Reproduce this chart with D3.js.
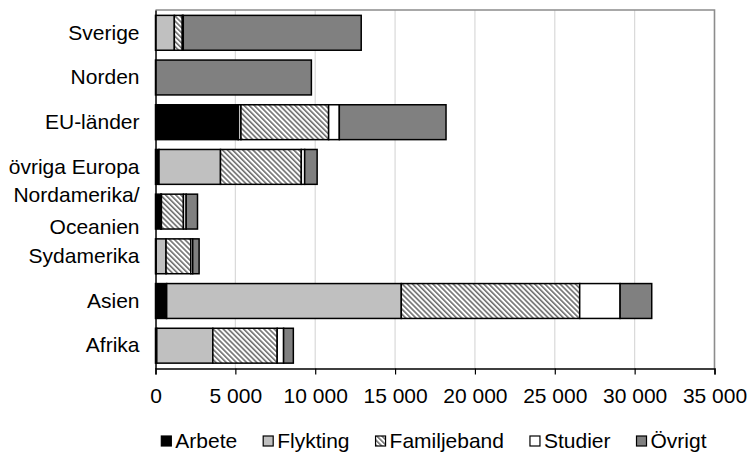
<!DOCTYPE html>
<html>
<head>
<meta charset="utf-8">
<script src="https://cdn.jsdelivr.net/npm/d3@7"></script>
<style>
    body { margin: 0; background: #fff; }
    svg text { font-family: "Liberation Sans", Arial, sans-serif; font-size: 21px; fill: #000; }
</style>
</head>
<body>
<div id="chart"></div>
<script>
// Regions of origin, top to bottom
var regions = ["Sverige", "Norden", "EU-länder", "övriga Europa", "Nordamerika/\nOceanien", "Sydamerika", "Asien", "Afrika"];

// Reasons for residence (stack order, left to right)
var reasons = ["Arbete", "Flykting", "Familjeband", "Studier", "Övrigt"];

// Values per region
var arbete      = [0,    0,    5180, 220,  330,  40,   700,   80];
var flykting    = [1180, 0,    170,  3850, 40,   620,  14690, 3510];
var familjeband = [500,  0,    5490, 5060, 1380, 1550, 11170, 4030];
var studier     = [60,   0,    670,  210,  170,  120,  2530,  400];
var ovrigt      = [11140, 9760, 6680, 780,  710,  400,  1980,  610];

var xTicks = [0, 5000, 10000, 15000, 20000, 25000, 30000, 35000];

/**
 * Build the stacked horizontal bar chart
 */
function buildChart() {
    var width = 750, height = 454;
    var plot = {left: 155.5, right: 714.5, top: 10, bottom: 368.5};

    var svg = d3.select("#chart")
        .append("svg")
        .attr("width", width)
        .attr("height", height);

    // Hatch pattern for Familjeband
    var defs = svg.append("defs");
    var hatch = defs.append("pattern")
        .attr("id", "hatch")
        .attr("patternUnits", "userSpaceOnUse")
        .attr("width", 3.6)
        .attr("height", 10)
        .attr("patternTransform", "rotate(-45)");
    hatch.append("rect").attr("width", 3.6).attr("height", 10).attr("fill", "#fff");
    hatch.append("rect").attr("width", 1.6).attr("height", 10).attr("fill", "#6e6e6e");

    var fills = {
        "Arbete": "#000000",
        "Flykting": "#c0c0c0",
        "Familjeband": "url(#hatch)",
        "Studier": "#ffffff",
        "Övrigt": "#808080"
    };

    // Put the series into rows for d3.stack
    var series = [arbete, flykting, familjeband, studier, ovrigt];
    var rows = regions.map(function(r, i) {
        var row = {region: r};
        reasons.forEach(function(k, j) { row[k] = series[j][i]; });
        return row;
    });
    var stacked = d3.stack().keys(reasons)(rows);

    var x = d3.scaleLinear()
        .domain([0, 35000])
        .range([plot.left, plot.right]);

    var y = d3.scaleBand()
        .domain(regions)
        .range([plot.top, plot.bottom])
        .paddingInner(0.22)
        .paddingOuter(0.12);

    // Gridlines
    svg.append("g")
        .selectAll("line")
        .data(xTicks.slice(1, -1))
        .enter()
        .append("line")
            .attr("x1", function(d) { return x(d); })
            .attr("x2", function(d) { return x(d); })
            .attr("y1", plot.top)
            .attr("y2", plot.bottom)
            .attr("stroke", "#d9d9d9")
            .attr("stroke-width", 1.2);

    // Plot border (top and right)
    svg.append("path")
        .attr("d", "M" + plot.left + "," + plot.top + "H" + plot.right + "V" + plot.bottom)
        .attr("fill", "none")
        .attr("stroke", "#8c8c8c")
        .attr("stroke-width", 1.6);

    // Bars
    svg.append("g")
        .selectAll("g")
        .data(stacked)
        .enter()
        .append("g")
            .attr("fill", function(d) { return fills[d.key]; })
        .selectAll("rect")
        .data(function(d) { return d; })
        .enter()
        .filter(function(d) { return d[1] > d[0]; })
        .append("rect")
            .attr("x", function(d) { return x(d[0]); })
            .attr("width", function(d) { return x(d[1]) - x(d[0]); })
            .attr("y", function(d) { return y(d.data.region); })
            .attr("height", y.bandwidth())
            .attr("stroke", "#000")
            .attr("stroke-width", 1.5);

    // X axis with space as thousands separator
    var fmt = d3.formatLocale({decimal: ",", thousands: " ", grouping: [3], currency: ["", " kr"]}).format(",d");
    var xAxis = svg.append("g")
        .attr("transform", "translate(0," + plot.bottom + ")")
        .call(d3.axisBottom(x).tickValues(xTicks).tickFormat(fmt).tickSize(6).tickPadding(14).tickSizeOuter(6));
    xAxis.select(".domain").attr("stroke", "#000").attr("stroke-width", 1.5);
    xAxis.selectAll(".tick line").attr("stroke", "#000").attr("stroke-width", 1.2);
    xAxis.selectAll("text").attr("font-size", null).attr("font-family", null);

    // Y axis: labels only plus a vertical line
    var yAxis = svg.append("g")
        .attr("transform", "translate(" + plot.left + ",0)")
        .call(d3.axisLeft(y).tickSize(0).tickPadding(16));
    yAxis.select(".domain").attr("stroke", "#000").attr("stroke-width", 1.5);
    yAxis.selectAll("text").attr("font-size", null).attr("font-family", null);

    // Split the two-line label into tspans
    yAxis.selectAll(".tick text").each(function(d) {
        var parts = d.split("\n");
        if (parts.length < 2) return;
        var t = d3.select(this).text("").attr("dy", null);
        parts.forEach(function(p, i) {
            t.append("tspan")
                .attr("x", -16)
                .attr("dy", i == 0 ? "-0.45em" : "1.5em")
                .text(p);
        });
    });

    // Legend
    var legend = svg.append("g").attr("transform", "translate(0,441)");
    var items = legend.selectAll("g")
        .data(reasons)
        .enter()
        .append("g");
    items.append("rect")
        .attr("width", 10)
        .attr("height", 10)
        .attr("y", -5)
        .attr("fill", function(d) { return fills[d]; })
        .attr("stroke", "#000")
        .attr("stroke-width", 1.2);
    items.append("text")
        .attr("x", 14)
        .attr("dy", "0.35em")
        .text(function(d) { return d; });

    // Lay the legend items out from their measured widths, centered
    var gap = 26;
    var widths = [];
    items.each(function() { widths.push(this.getBBox().width); });
    var total = d3.sum(widths) + gap * (widths.length - 1);
    var pos = 434 - total / 2;
    items.attr("transform", function(d, i) {
        var t = "translate(" + pos + ",0)";
        pos += widths[i] + gap;
        return t;
    });
}

buildChart();
</script>
</body>
</html>
